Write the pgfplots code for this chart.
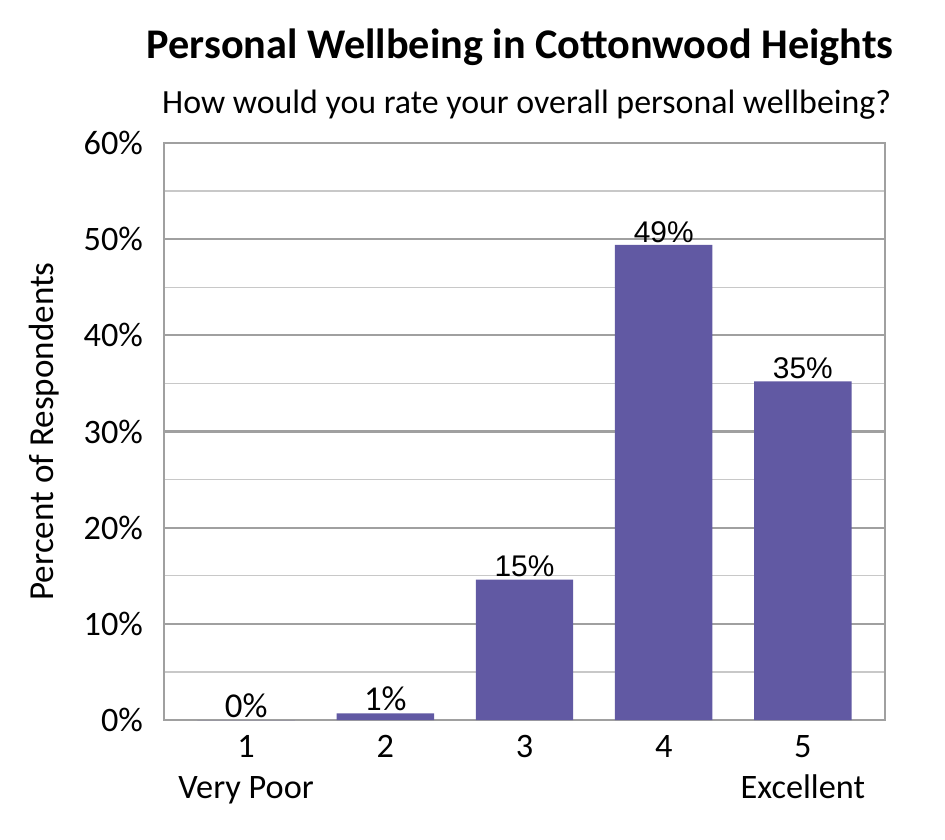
\documentclass[border=0pt]{standalone}
\usepackage{pgfplots}
\pgfplotsset{compat=1.18}
\usepackage{fontspec}
\setmainfont{Carlito}
\newfontfamily\arial{Liberation Sans}
\newfontfamily\carlito{Carlito}
\definecolor{barcol}{RGB}{97,89,163}
\definecolor{majgrid}{RGB}{160,160,160}
\definecolor{mingrid}{RGB}{200,200,200}

\begin{document}
\begin{tikzpicture}
\useasboundingbox (-82bp,-60bp) rectangle (390.5bp,360bp);
\begin{axis}[
    at={(0,0)}, anchor=south west,
    scale only axis,
    width=360.5bp, height=288.5bp,
    ybar, bar width=0.70,
    xmin=0.41, xmax=5.59,
    ymin=0, ymax=60,
    xtick={1,2,3,4,5},
    xticklabels={1\\Very Poor, 2, 3, 4, 5\\Excellent},
    ytick={0,10,20,30,40,50,60},
    minor ytick={5,15,25,35,45,55},
    yticklabel={\pgfmathprintnumber{\tick}\%},
    /pgf/number format/assume math mode=true,
    major tick length=0pt, minor tick length=0pt,
    ymajorgrids, yminorgrids,
    major grid style={majgrid, line width=1.1bp},
    minor grid style={mingrid, line width=0.7bp},
    axis line style={majgrid, line width=1.2bp},
    tick label style={font=\fontsize{17.2}{21}\selectfont},
    xticklabel style={align=center, yshift=-4bp},
    yticklabel style={xshift=-7bp},
    ylabel={Percent of Respondents},
    ylabel style={font=\fontsize{17.6}{20}\selectfont, at={(axis description cs:-0.166,0.5)}, anchor=center},
    point meta=explicit symbolic,
    nodes near coords={\pgfplotspointmeta},
    nodes near coords style={font=\fontsize{15}{16}\selectfont, inner sep=1bp},
    clip=false,
]
\addplot[fill=barcol, draw=none] coordinates {
    (1,0) [{\carlito\fontsize{17.5}{18}\selectfont 0\%}]
    (2,0.7) [{\carlito\fontsize{17.5}{18}\selectfont 1\%}]
    (3,14.6) [{\arial 15\%}]
    (4,49.4) [{\arial 49\%}]
    (5,35.2) [{\arial 35\%}]
};
\node[font=\bfseries\fontsize{21.2}{24}\selectfont] at (axis description cs:0.494,1.166) {Personal Wellbeing in Cottonwood Heights};
\node[font=\fontsize{17}{20}\selectfont] at (axis description cs:0.503,1.067) {How would you rate your overall personal wellbeing?};
\end{axis}
\end{tikzpicture}
\end{document}
